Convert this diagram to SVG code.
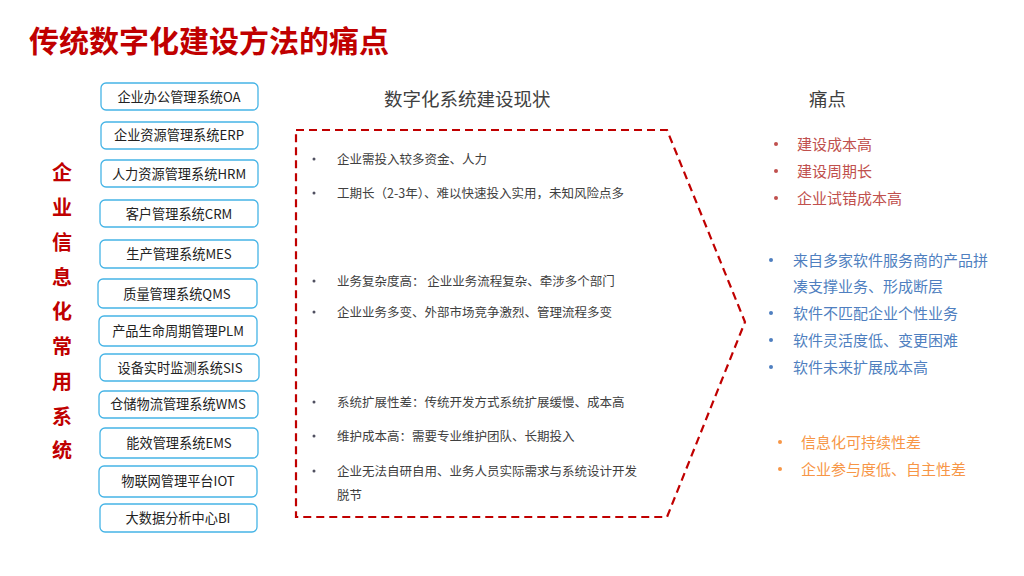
<svg xmlns="http://www.w3.org/2000/svg" width="1024" height="576" viewBox="0 0 1024 576">
<style>
text{font-family:"Microsoft YaHei","Noto Sans CJK SC","Noto Sans",sans-serif;dominant-baseline:central}
.title{font-size:30px;font-weight:bold;fill:#C00000}
.vt{font-size:20px;font-weight:bold;fill:#C00000;text-anchor:middle}
.box rect{fill:#fff;stroke:#45B4E6;stroke-width:1.3}
.box text{font-size:13.2px;fill:#222;text-anchor:middle}
.hd{font-size:18.5px;fill:#404040}
.mid{font-size:12.5px;fill:#404040}
.dot{fill:#505060}
.r{font-size:15px;fill:#C0504D}
.b{font-size:15px;fill:#4F7FC0}
.o{font-size:15px;fill:#F79646}
</style>
<rect width="1024" height="576" fill="#fff"/>
<text class="title" x="29" y="39">传统数字化建设方法的痛点</text>

<g id="vertical-label">
<text class="vt" x="62" y="171">企</text>
<text class="vt" x="62" y="206">业</text>
<text class="vt" x="62" y="241">信</text>
<text class="vt" x="62" y="276">息</text>
<text class="vt" x="62" y="310">化</text>
<text class="vt" x="62" y="345">常</text>
<text class="vt" x="62" y="380">用</text>
<text class="vt" x="62" y="415">系</text>
<text class="vt" x="62" y="449">统</text>
</g>

<g id="node-oa" class="box"><rect x="101" y="83" width="157" height="27" rx="5"/><text x="179" y="96">企业办公管理系统OA</text></g>
<g id="node-erp" class="box"><rect x="101" y="122" width="157" height="27" rx="5"/><text x="179" y="134">企业资源管理系统ERP</text></g>
<g id="node-hrm" class="box"><rect x="101" y="160" width="157" height="27" rx="5"/><text x="179" y="173">人力资源管理系统HRM</text></g>
<g id="node-crm" class="box"><rect x="100" y="200" width="158" height="27" rx="5"/><text x="179" y="213">客户管理系统CRM</text></g>
<g id="node-mes" class="box"><rect x="100" y="240" width="158" height="28" rx="5"/><text x="179" y="253">生产管理系统MES</text></g>
<g id="node-qms" class="box"><rect x="98" y="279" width="159" height="29" rx="5"/><text x="177" y="293">质量管理系统QMS</text></g>
<g id="node-plm" class="box"><rect x="99" y="316" width="158" height="30" rx="5"/><text x="178" y="330">产品生命周期管理PLM</text></g>
<g id="node-sis" class="box"><rect x="100" y="354" width="159" height="27" rx="5"/><text x="180" y="367">设备实时监测系统SIS</text></g>
<g id="node-wms" class="box"><rect x="99" y="391" width="159" height="27" rx="5"/><text x="178" y="403">仓储物流管理系统WMS</text></g>
<g id="node-ems" class="box"><rect x="100" y="428" width="158" height="30" rx="5"/><text x="179" y="442">能效管理系统EMS</text></g>
<g id="node-iot" class="box"><rect x="99" y="466" width="158" height="31" rx="5"/><text x="178" y="480">物联网管理平台IOT</text></g>
<g id="node-bi" class="box"><rect x="100" y="504" width="157" height="28" rx="5"/><text x="178" y="517">大数据分析中心BI</text></g>

<g id="headers">
<text class="hd" x="384" y="98">数字化系统建设现状</text>
<text class="hd" x="809" y="98">痛点</text>
</g>

<g id="connectors">
<polygon points="296,130 667,130 745,322 667,517 296,517" fill="none" stroke="#C00000" stroke-width="2.2" stroke-dasharray="8,5"/>
</g>

<g id="status">
<circle class="dot" cx="314" cy="159" r="1.5"/><text class="mid" x="337" y="158">企业需投入较多资金、人力</text>
<circle class="dot" cx="314" cy="193" r="1.5"/><text class="mid" x="337" y="192">工期长（2-3年）、难以快速投入实用，未知风险点多</text>
<circle class="dot" cx="314" cy="281" r="1.5"/><text class="mid" x="337" y="280">业务复杂度高： 企业业务流程复杂、牵涉多个部门</text>
<circle class="dot" cx="314" cy="312" r="1.5"/><text class="mid" x="337" y="311">企业业务多变、外部市场竞争激烈、管理流程多变</text>
<circle class="dot" cx="314" cy="402" r="1.5"/><text class="mid" x="337" y="401">系统扩展性差：传统开发方式系统扩展缓慢、成本高</text>
<circle class="dot" cx="314" cy="436" r="1.5"/><text class="mid" x="337" y="435">维护成本高：需要专业维护团队、长期投入</text>
<circle class="dot" cx="314" cy="471" r="1.5"/><text class="mid" x="337" y="470">企业无法自研自用、业务人员实际需求与系统设计开发</text>
<text class="mid" x="337" y="494">脱节</text>
</g>

<g id="pain-red">
<circle cx="776" cy="144" r="2" fill="#C0504D"/><text class="r" x="797" y="143">建设成本高</text>
<circle cx="776" cy="171" r="2" fill="#C0504D"/><text class="r" x="797" y="170">建设周期长</text>
<circle cx="776" cy="198" r="2" fill="#C0504D"/><text class="r" x="797" y="197">企业试错成本高</text>
</g>
<g id="pain-blue">
<circle cx="771" cy="260" r="2" fill="#4F7FC0"/><text class="b" x="793" y="259">来自多家软件服务商的产品拼</text>
<text class="b" x="793" y="285">凑支撑业务、形成断层</text>
<circle cx="771" cy="313" r="2" fill="#4F7FC0"/><text class="b" x="793" y="312">软件不匹配企业个性业务</text>
<circle cx="771" cy="340" r="2" fill="#4F7FC0"/><text class="b" x="793" y="339">软件灵活度低、变更困难</text>
<circle cx="771" cy="367" r="2" fill="#4F7FC0"/><text class="b" x="793" y="366">软件未来扩展成本高</text>
</g>
<g id="pain-orange">
<circle cx="780" cy="442" r="2" fill="#F79646"/><text class="o" x="801" y="441">信息化可持续性差</text>
<circle cx="780" cy="469" r="2" fill="#F79646"/><text class="o" x="801" y="468">企业参与度低、自主性差</text>
</g>
</svg>
